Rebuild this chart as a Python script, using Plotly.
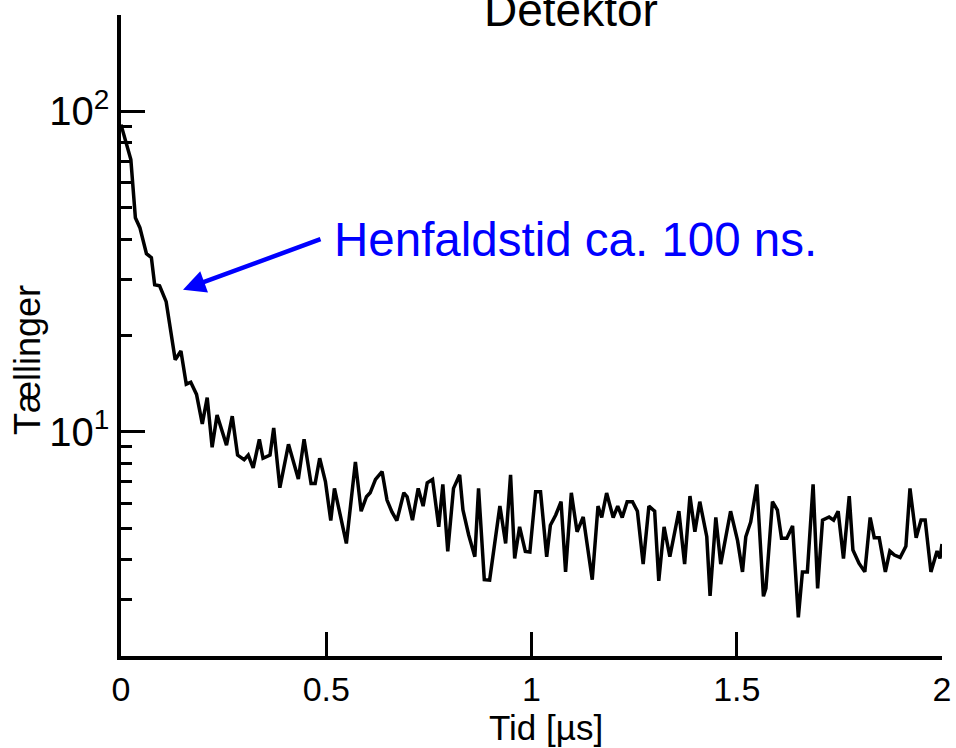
import math
import plotly.graph_objects as go

# Time (µs) and counts
time_us = [0.000, 0.024, 0.035, 0.046, 0.062, 0.074, 0.082, 0.094, 0.110, 0.132,
           0.146, 0.159, 0.170, 0.184, 0.198, 0.210, 0.222, 0.234, 0.257, 0.271,
           0.284, 0.300, 0.310, 0.322, 0.337, 0.346, 0.363, 0.372, 0.387,
           0.408, 0.432, 0.446, 0.463, 0.473, 0.484, 0.498, 0.511, 0.520, 0.549,
           0.571, 0.585, 0.598, 0.607, 0.620, 0.636, 0.648, 0.660, 0.672, 0.689,
           0.697, 0.710, 0.724, 0.736, 0.746, 0.759, 0.774, 0.784,
           0.796, 0.810, 0.825, 0.833, 0.847, 0.862, 0.871, 0.885, 0.898, 0.923,
           0.937, 0.949, 0.959, 0.971, 0.985, 0.996, 1.010, 1.022, 1.037, 1.046,
           1.059, 1.072, 1.083, 1.097, 1.111, 1.126, 1.148, 1.162, 1.171, 1.183,
           1.199, 1.210, 1.221, 1.233, 1.246, 1.258, 1.272, 1.286, 1.300, 1.310,
           1.323, 1.337, 1.359, 1.373, 1.386, 1.398, 1.410, 1.427, 1.435, 1.449,
           1.461, 1.485, 1.502, 1.514, 1.522, 1.534, 1.549, 1.565,
           1.571, 1.587, 1.599, 1.609, 1.622, 1.636, 1.650, 1.660, 1.672, 1.686,
           1.697, 1.709, 1.725, 1.736, 1.747, 1.760, 1.774, 1.783, 1.798, 1.812,
           1.825, 1.835, 1.847, 1.862, 1.873, 1.884, 1.898, 1.912, 1.922, 1.937,
           1.949, 1.959, 1.973, 1.988, 1.995, 2.000]
counts = [91.0, 70.8, 46.6, 43.4, 36.0, 35.0, 28.8, 28.6, 25.5, 16.8,
          17.9, 14.1, 14.3, 13.1, 10.6, 12.8, 8.96, 11.3, 9.1, 11.2,
          8.47, 8.2, 8.47, 7.73, 9.49, 8.28, 8.47, 10.3, 6.7,
          9.15, 7.13, 9.49, 6.91, 6.91, 8.28, 7.0, 5.29, 6.67, 4.49,
          8.07, 5.66, 6.28, 6.46, 7.11, 7.52, 6.13, 5.63, 5.29, 6.46,
          6.28, 5.31, 6.67, 5.87, 6.94, 7.11, 5.06, 6.86,
          4.24, 6.67, 7.35, 5.71, 4.77, 4.08, 6.67, 3.46, 3.45, 5.88,
          4.49, 7.35, 4.03, 5.06, 4.24, 4.22, 6.51, 6.51, 4.08, 5.12,
          5.51, 6.06, 3.66, 6.46, 4.88, 5.43, 3.46, 5.87, 5.41, 6.45,
          5.41, 5.87, 5.41, 6.06, 6.06, 5.66, 3.87, 5.87, 5.66, 3.43,
          5.06, 4.08, 5.66, 3.87, 6.31, 4.88, 6.06, 4.71, 3.08, 5.41,
          3.87, 5.66, 4.58, 3.66, 4.71, 5.24, 6.86, 3.07,
          3.25, 6.06, 5.71, 4.66, 4.66, 5.09, 2.64, 3.66, 3.66, 6.86,
          3.25, 5.31, 5.43, 5.31, 5.66, 4.03, 6.31, 4.28, 3.89, 3.66,
          5.41, 4.68, 4.68, 3.66, 4.25, 4.13, 4.06, 4.40, 6.67, 4.68,
          5.31, 5.31, 3.66, 4.25, 4.03, 4.47]

x_tickvals = [0, 0.5, 1, 1.5, 2]
x_ticktext = ["0", "0.5", "1", "1.5", "2"]
y_tickvals = [10, 100]
y_ticktext = ["10<sup>1</sup>", "10<sup>2</sup>"]
y_minor = [3, 4, 5, 6, 7, 8, 9, 20, 30, 40, 50, 60, 70, 80, 90, 200]

title_text = "Detektor"
x_title = "Tid [µs]"
y_title = "Tællinger"
note_text = "Henfaldstid ca. 100 ns."
arrow_head = (0.151, 27.8)  # (time, counts) the arrow points to

FONT = "Liberation Sans, Arial, Helvetica, sans-serif"

fig = go.Figure()
fig.add_trace(go.Scatter(x=time_us, y=counts, mode="lines",
                         line=dict(color="black", width=3.5), showlegend=False))

fig.update_layout(
    width=956, height=748,
    margin=dict(l=121, r=14, t=15, b=92),
    paper_bgcolor="white", plot_bgcolor="white",
    font=dict(family=FONT, color="black", size=34),
    xaxis=dict(range=[0, 2], tickvals=x_tickvals, ticktext=x_ticktext,
               automargin=False,
               showline=True, linecolor="black", linewidth=3.5, mirror=False,
               ticks="inside", ticklen=24, tickwidth=3, tickcolor="black",
               showgrid=False, zeroline=False,
               tickfont=dict(size=34)),
    yaxis=dict(type="log", range=[math.log10(2), math.log10(200)],
               tickvals=y_tickvals, ticktext=y_ticktext,
               automargin=False,
               showline=True, linecolor="black", linewidth=3.5, mirror=False,
               ticks="inside", ticklen=24, tickwidth=3, tickcolor="black",
               minor=dict(tickvals=y_minor, ticks="inside", ticklen=11,
                          tickwidth=3, tickcolor="black", showgrid=False),
               showgrid=False, zeroline=False,
               tickfont=dict(size=40)),
)

fig.add_annotation(x=0.548, y=1.008, xref="paper", yref="paper",
                   text=title_text, showarrow=False,
                   font=dict(size=46, color="black"),
                   xanchor="center", yanchor="middle")
fig.add_annotation(x=0.518, y=-0.112, xref="paper", yref="paper",
                   text=x_title, showarrow=False,
                   font=dict(size=35, color="black"),
                   xanchor="center", yanchor="middle")
fig.add_annotation(x=-0.113, y=0.462, xref="paper", yref="paper",
                   text=y_title, showarrow=False, textangle=-90,
                   font=dict(size=36, color="black"),
                   xanchor="center", yanchor="middle")
fig.add_annotation(x=0.257, y=0.649, xref="paper", yref="paper",
                   text=note_text, showarrow=False,
                   font=dict(size=47.5, color="#0000ff"),
                   xanchor="left", yanchor="middle")
fig.add_annotation(x=arrow_head[0], y=math.log10(arrow_head[1]),
                   xref="x", yref="y", text="", showarrow=True,
                   ax=139, ay=-51, arrowcolor="#0000ff", arrowwidth=4.5,
                   arrowhead=2, arrowsize=1)

fig.write_html("out.html",
               config={"displayModeBar": False},
               post_script="document.body.style.margin='0px';")
